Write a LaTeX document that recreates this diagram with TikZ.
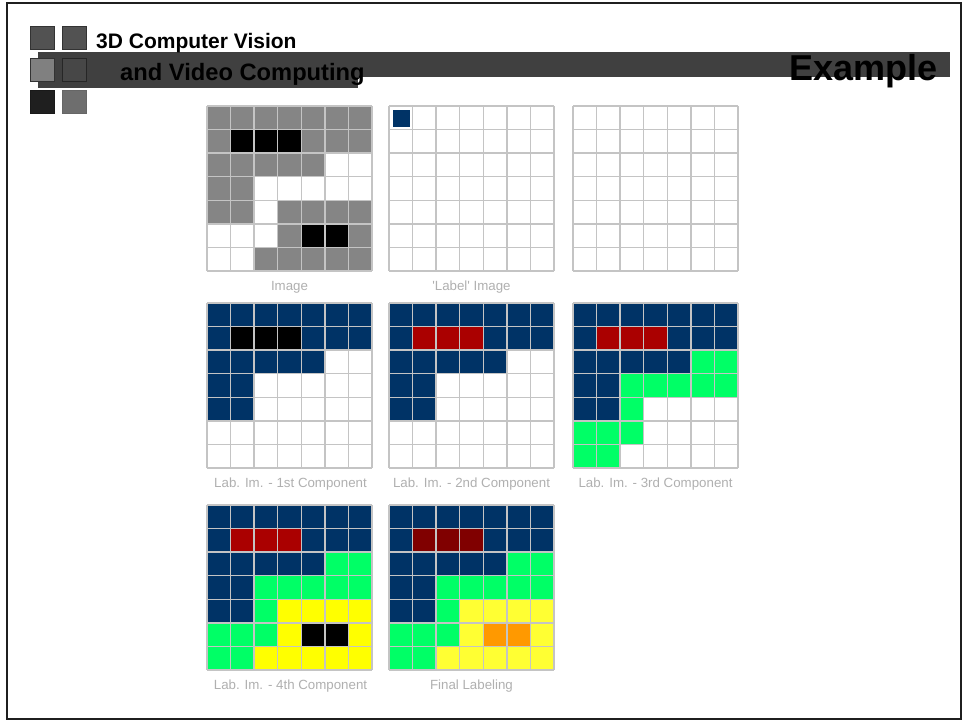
\documentclass[tikz,border=0pt]{standalone}
\usepackage{fontspec}
\setmainfont{Liberation Sans}
\newfontfamily\labfont{Liberation Sans}[Ligatures=TeXOff]
\definecolor{cG}{HTML}{858585}
\definecolor{cK}{HTML}{000000}
\definecolor{cW}{HTML}{FFFFFF}
\definecolor{cN}{HTML}{003366}
\definecolor{cR}{HTML}{AA0000}
\definecolor{cD}{HTML}{800000}
\definecolor{cE}{HTML}{00FF66}
\definecolor{cY}{HTML}{FFFF00}
\definecolor{cL}{HTML}{FFFF33}
\definecolor{cO}{HTML}{FF9900}
\definecolor{gridgray}{HTML}{C4C4C4}
\definecolor{labgray}{HTML}{B0B0B0}
\definecolor{barcol}{HTML}{404040}
\def\cellsz{23.57}
\newcommand{\pixgrid}[3]{%
  \foreach \row [count=\r from 0] in {#3} {
    \foreach \c [count=\k from 0] in \row {
      \fill[c\c] ({#1+\k*\cellsz},{#2+\r*\cellsz}) rectangle ++(\cellsz,\cellsz);
    }
  }
  \foreach \i in {0,...,7} {
    \draw[gridline] ({#1+\i*\cellsz},{#2}) -- ++(0,{7*\cellsz});
    \draw[gridline] ({#1},{#2+\i*\cellsz}) -- ++({7*\cellsz},0);
  }
}
\tikzset{
  gridline/.style={draw=gridgray, line width=1.5pt},
  caption/.style={anchor=base, inner sep=0pt, text=labgray, font=\labfont\fontsize{13.3}{15}\selectfont},
  hsq/.style={line width=0.8pt},
  title/.style={anchor=base west, inner sep=0pt, font=\bfseries},
}
\begin{document}
\begin{tikzpicture}[x=1pt,y=-1pt]
\useasboundingbox (0,0) rectangle (963,721);
\fill[white] (0,0) rectangle (963,721);
% frame
\draw[line width=2pt, color=black!88] (7,3) rectangle (961,719);
% header bar
\fill[barcol] (38,52) rectangle (358,88);
\fill[barcol] (358,52) rectangle (950,77);
% header squares
\fill[hsq, fill=black!68, draw=black!80] (30,26) rectangle (54,49);
\fill[hsq, fill=black!68, draw=black!80] (62,26) rectangle (86,49);
\fill[hsq, fill=black!50, draw=black!80] (30,58) rectangle (54,81);
\fill[hsq, fill=black!72, draw=black!85] (62,58) rectangle (86,81);
\fill[hsq, fill=black!88, draw=black!90] (30,90) rectangle (54,113);
\fill[hsq, fill=black!57, draw=black!60] (62,90) rectangle (86,113);
\node[title, font=\bfseries\fontsize{21}{24}\selectfont] (t1) at (96,48) {3D Computer Vision};
\node[title, font=\bfseries\fontsize{23.7}{26}\selectfont] (t2) at (120,80) {and Video Computing};
\node[anchor=base east, inner sep=0pt, font=\bfseries\fontsize{36}{40}\selectfont] (ex) at (938,80) {Example};
% row 1
\pixgrid{207}{106}{{G,G,G,G,G,G,G},{G,K,K,K,G,G,G},{G,G,G,G,G,W,W},{G,G,W,W,W,W,W},{G,G,W,G,G,G,G},{W,W,W,G,K,K,G},{W,W,G,G,G,G,G}}
\pixgrid{389}{106}{{W,W,W,W,W,W,W},{W,W,W,W,W,W,W},{W,W,W,W,W,W,W},{W,W,W,W,W,W,W},{W,W,W,W,W,W,W},{W,W,W,W,W,W,W},{W,W,W,W,W,W,W}}
\fill[cN] (392.5,109.5) rectangle (410,127);
\pixgrid{573}{106}{{W,W,W,W,W,W,W},{W,W,W,W,W,W,W},{W,W,W,W,W,W,W},{W,W,W,W,W,W,W},{W,W,W,W,W,W,W},{W,W,W,W,W,W,W},{W,W,W,W,W,W,W}}
\node[caption] (c1) at (289.5,290) {Image};
\node[caption] (c2) at (471.5,290) {'Label' Image};
% row 2
\pixgrid{207}{303}{{N,N,N,N,N,N,N},{N,K,K,K,N,N,N},{N,N,N,N,N,W,W},{N,N,W,W,W,W,W},{N,N,W,W,W,W,W},{W,W,W,W,W,W,W},{W,W,W,W,W,W,W}}
\pixgrid{389}{303}{{N,N,N,N,N,N,N},{N,R,R,R,N,N,N},{N,N,N,N,N,W,W},{N,N,W,W,W,W,W},{N,N,W,W,W,W,W},{W,W,W,W,W,W,W},{W,W,W,W,W,W,W}}
\pixgrid{573}{303}{{N,N,N,N,N,N,N},{N,R,R,R,N,N,N},{N,N,N,N,N,E,E},{N,N,E,E,E,E,E},{N,N,E,W,W,W,W},{E,E,E,W,W,W,W},{E,E,W,W,W,W,W}}
\node[caption] (c4) at (290.5,487) {Lab. Im. - 1st Component};
\node[caption] (c5) at (471.5,487) {Lab. Im. - 2nd Component};
\node[caption] (c6) at (655.5,487) {Lab. Im. - 3rd Component};
% row 3
\pixgrid{207}{505}{{N,N,N,N,N,N,N},{N,R,R,R,N,N,N},{N,N,N,N,N,E,E},{N,N,E,E,E,E,E},{N,N,E,Y,Y,Y,Y},{E,E,E,Y,K,K,Y},{E,E,Y,Y,Y,Y,Y}}
\pixgrid{389}{505}{{N,N,N,N,N,N,N},{N,D,D,D,N,N,N},{N,N,N,N,N,E,E},{N,N,E,E,E,E,E},{N,N,E,L,L,L,L},{E,E,E,L,O,O,L},{E,E,L,L,L,L,L}}
\node[caption] (c7) at (290.5,689) {Lab. Im. - 4th Component};
\node[caption] (c8) at (471.5,689) {Final Labeling};
\end{tikzpicture}
\end{document}
